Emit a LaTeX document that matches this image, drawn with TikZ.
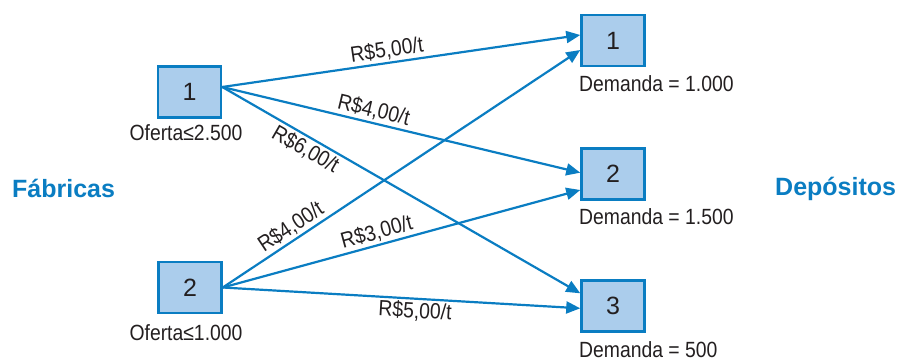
\documentclass[tikz,border=0pt]{standalone}
\usepackage{fontspec}
\setmainfont{Liberation Sans}
\newfontfamily\lblfont{Liberation Sans}[FakeStretch=0.88]
\usetikzlibrary{arrows.meta}
\definecolor{flow}{HTML}{0A7DC2}
\definecolor{boxfill}{HTML}{ABCDEC}
\definecolor{ink}{HTML}{231F20}
\begin{document}
\begin{tikzpicture}[x=1pt,y=-1pt,
  box/.style={draw=flow, fill=boxfill, line width=2.5pt, minimum width=63pt, minimum height=51pt, inner sep=0pt, text=ink, font=\fontsize{25}{25}\selectfont},
  arr/.style={draw=flow, line width=2.2pt, -{Triangle[length=14pt,width=12pt]}},
  cost/.style={sloped, text=ink, font=\lblfont\fontsize{22}{22}\selectfont, inner sep=2pt},
  note/.style={text=ink, font=\lblfont\fontsize{22}{22}\selectfont, inner sep=0pt},
  group/.style={text=flow, font=\bfseries\fontsize{25}{25}\selectfont, inner sep=0pt}]
\useasboundingbox (0,0) rectangle (899,358);

% factories
\node[box] (f1) at (189.5,92) {1};
\node[box] (f2) at (190,287.5) {2};
\node[note, anchor=base] (o1) at (186,141) {Oferta≤2.500};
\node[note, anchor=base] (o2) at (186,340) {Oferta≤1.000};

% depots
\node[box] (d1) at (613,40.5) {1};
\node[box] (d2) at (613,174) {2};
\node[box] (d3) at (613,306) {3};
\node[note, anchor=base west] (n1) at (579,92) {Demanda = 1.000};
\node[note, anchor=base west] (n2) at (579,224) {Demanda = 1.500};
\node[note, anchor=base west] (n3) at (579,357) {Demanda = 500};

% group titles
\node[group, anchor=base west] (gf) at (12,197) {Fábricas};
\node[group, anchor=base west] (gd) at (775,196) {Depósitos};

% connector end points
\coordinate (s1) at ([yshift=5pt]f1.east);
\coordinate (s2) at (f2.east);
\coordinate (t11) at ([yshift=5.5pt]d1.west);
\coordinate (t21) at ([yshift=-9.5pt]d1.west);
\coordinate (t12) at ([yshift=1.3pt]d2.west);
\coordinate (t22) at ([yshift=-16pt]d2.west);
\coordinate (t13) at ([yshift=12.7pt]d3.west);
\coordinate (t23) at ([yshift=-2.3pt]d3.west);

% connectors
\draw[arr] (s1) -- node[cost, above, pos=0.465] {R\$5,00/t} (t11);
\draw[arr] (s1) -- node[cost, above, pos=0.415] {R\$4,00/t} (t12);
\draw[arr] (s1) -- node[cost, below, pos=0.25] {R\$6,00/t} (t13);
\draw[arr] (s2) -- node[cost, above, pos=0.21] {R\$4,00/t} (t21);
\draw[arr] (s2) -- node[cost, above, pos=0.44] {R\$3,00/t} (t22);
\draw[arr] (s2) -- node[cost, below, pos=0.54] {R\$5,00/t} (t23);
\end{tikzpicture}
\end{document}
